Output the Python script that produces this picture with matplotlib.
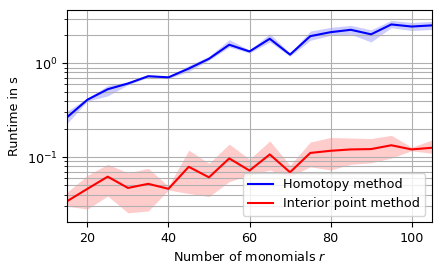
import numpy as np
import matplotlib
matplotlib.use("Agg")
import matplotlib.pyplot as plt

plt.rcParams["font.size"] = 9.2

# number of monomials
r = [15, 20, 25, 30, 35, 40, 45, 50, 55, 60, 65, 70, 75, 80, 85, 90, 95, 100, 105]

# homotopy method: mean runtime and spread
homotopy_mean = [0.267, 0.41, 0.53, 0.61, 0.73, 0.71, 0.88, 1.12, 1.58, 1.34, 1.83, 1.24,
                 1.95, 2.15, 2.28, 2.04, 2.60, 2.47, 2.54]
homotopy_low = [0.23, 0.396, 0.45, 0.59, 0.71, 0.69, 0.82, 1.08, 1.49, 1.29, 1.69, 1.19,
                1.76, 1.99, 2.04, 1.69, 2.40, 2.24, 2.30]
homotopy_high = [0.31, 0.426, 0.58, 0.636, 0.75, 0.73, 0.95, 1.19, 1.79, 1.39, 2.07, 1.29,
                 2.21, 2.42, 2.54, 2.28, 2.87, 2.73, 2.80]

# interior point method: mean runtime and spread
interior_mean = [0.034, 0.046, 0.062, 0.047, 0.052, 0.046, 0.079, 0.061, 0.097, 0.072, 0.107,
                 0.069, 0.111, 0.117, 0.121, 0.122, 0.134, 0.121, 0.126]
interior_low = [0.030, 0.028, 0.0385, 0.0255, 0.0267, 0.0446, 0.041, 0.038, 0.055, 0.064,
                0.073, 0.062, 0.079, 0.073, 0.084, 0.087, 0.098, 0.117, 0.110]
interior_high = [0.0425, 0.064, 0.084, 0.068, 0.076, 0.049, 0.119, 0.086, 0.138, 0.095, 0.149,
                 0.082, 0.145, 0.162, 0.160, 0.158, 0.171, 0.128, 0.152]

fig = plt.figure(figsize=(4.42, 2.72), dpi=100)
ax = fig.add_axes([0.152, 0.184, 0.825, 0.781])

ax.plot(r, homotopy_mean, color="blue", lw=1.5, label="Homotopy method")
ax.fill_between(r, homotopy_low, homotopy_high, color="blue", alpha=0.2, lw=0)
ax.plot(r, interior_mean, color="red", lw=1.5, label="Interior point method")
ax.fill_between(r, interior_low, interior_high, color="red", alpha=0.2, lw=0)

ax.set_yscale("log")
ax.set_xlim(15, 105)
ax.set_ylim(0.0204, 3.75)
ax.set_xticks([20, 40, 60, 80, 100])
ax.grid(True, which="both")
ax.set_xlabel("Number of monomials $r$")
ax.set_ylabel("Runtime in s")
ax.legend(loc="lower right")

fig.savefig("out.png", dpi=100)
